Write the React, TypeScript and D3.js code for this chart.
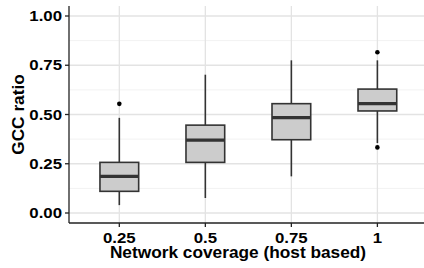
import React from 'react';
import * as d3 from 'd3';

const categories = ['0.25', '0.5', '0.75', '1'];
const lowerWhisker = [0.04, 0.076, 0.186, 0.355];
const q1 = [0.11, 0.257, 0.372, 0.518];
const medians = [0.186, 0.37, 0.484, 0.555];
const q3 = [0.257, 0.446, 0.555, 0.629];
const upperWhisker = [0.483, 0.702, 0.775, 0.775];
const outliers = [[0.554], [], [], [0.816, 0.333]];
const yTicks = [0, 0.25, 0.5, 0.75, 1];
const yMinor = [0.125, 0.375, 0.625, 0.875];

const width = 424;
const height = 268;
const left = 69;
const bottom = 223;
const top = 6;
const font = 'Liberation Sans, Arial, sans-serif';

// text drawn a bit wider, as in the reference rendering
const Label = ({ x, y, anchor, size, sx, rotate = 0, children }: any) => (
  <text
    transform={`translate(${x},${y}) rotate(${rotate}) scale(${sx},1)`}
    textAnchor={anchor}
    fontFamily={font}
    fontWeight="bold"
    fontSize={size}
    fill="black"
  >
    {children}
  </text>
);

const App = () => {
  const x = d3.scaleLinear().domain([0.4, 4.6]).range([67.7, 429]);
  const y = d3.scaleLinear().domain([0, 1]).range([213, 16]);
  const boxW = 0.45;

  return (
    <svg width={width} height={height} style={{ position: 'absolute', left: 0, top: 0 }}>
      <rect width={width} height={height} fill="white" />
      {yMinor.map((t) => (
        <line key={'m' + t} x1={left} x2={width} y1={y(t)} y2={y(t)} stroke="#f2f2f2" strokeWidth={1} />
      ))}
      {yTicks.map((t) => (
        <line key={'g' + t} x1={left} x2={width} y1={y(t)} y2={y(t)} stroke="#e3e3e3" strokeWidth={1.3} />
      ))}
      {categories.map((c, i) => (
        <line key={'v' + c} x1={x(i + 1)} x2={x(i + 1)} y1={top} y2={bottom} stroke="#e3e3e3" strokeWidth={1.3} />
      ))}
      {categories.map((c, i) => {
        const cx = x(i + 1);
        const x0 = x(i + 1 - boxW / 2);
        const x1 = x(i + 1 + boxW / 2);
        return (
          <g key={'b' + c}>
            <line x1={cx} x2={cx} y1={y(q3[i])} y2={y(upperWhisker[i])} stroke="#333" strokeWidth={1.6} />
            <line x1={cx} x2={cx} y1={y(q1[i])} y2={y(lowerWhisker[i])} stroke="#333" strokeWidth={1.6} />
            <rect x={x0} y={y(q3[i])} width={x1 - x0} height={y(q1[i]) - y(q3[i])} fill="#cccccc" stroke="#333" strokeWidth={1.6} />
            <line x1={x0} x2={x1} y1={y(medians[i])} y2={y(medians[i])} stroke="#333" strokeWidth={3.2} />
            {outliers[i].map((o, j) => (
              <circle key={j} cx={cx} cy={y(o)} r={2.3} fill="black" />
            ))}
          </g>
        );
      })}
      <line x1={left} x2={left} y1={top} y2={bottom} stroke="#222" strokeWidth={1.3} />
      <line x1={left} x2={width} y1={bottom} y2={bottom} stroke="#222" strokeWidth={1.3} />
      {yTicks.map((t) => (
        <g key={'yt' + t}>
          <line x1={left - 4} x2={left} y1={y(t)} y2={y(t)} stroke="#222" strokeWidth={1.3} />
          <Label x={left - 7} y={y(t) + 5.2} anchor="end" size={14.5} sx={1.16}>
            {d3.format('.2f')(t)}
          </Label>
        </g>
      ))}
      {categories.map((c, i) => (
        <g key={'xt' + c}>
          <line x1={x(i + 1)} x2={x(i + 1)} y1={bottom} y2={bottom + 4} stroke="#222" strokeWidth={1.3} />
          <Label x={x(i + 1)} y={bottom + 20} anchor="middle" size={14.5} sx={1.16}>
            {c}
          </Label>
        </g>
      ))}
      <Label x={238} y={258} anchor="middle" size={16} sx={1.08}>
        Network coverage (host based)
      </Label>
      <Label x={24} y={y(0.5)} anchor="middle" size={16} sx={1.08} rotate={-90}>
        GCC ratio
      </Label>
    </svg>
  );
};

export default App;
